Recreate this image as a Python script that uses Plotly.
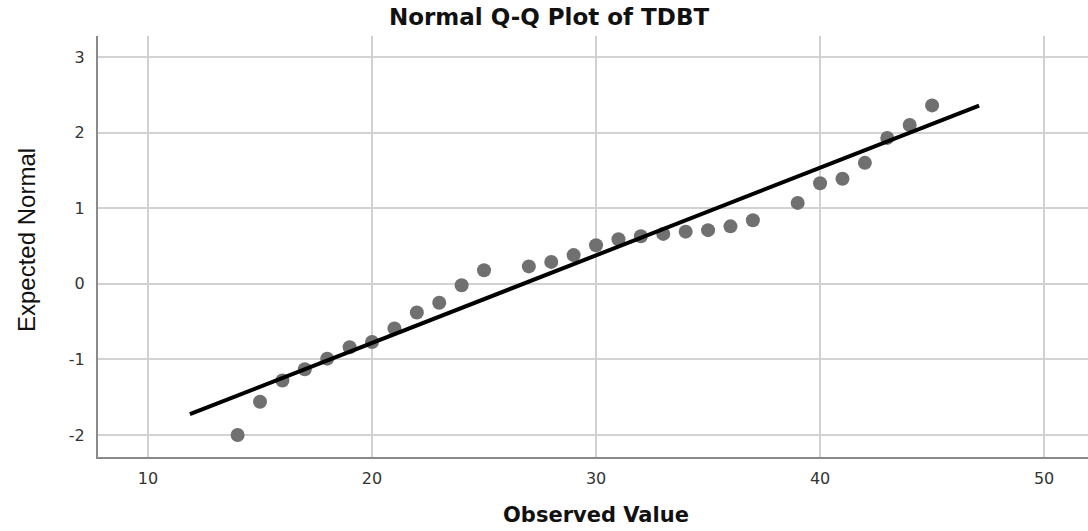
import plotly.graph_objects as go

# Observed TDBT scores and their expected normal quantiles
observed = [14, 15, 16, 17, 18, 19, 20, 21, 22, 23, 24, 25, 27, 28, 29, 30,
            31, 32, 33, 34, 35, 36, 37, 39, 40, 41, 42, 43, 44, 45]
expected = [-2.00, -1.56, -1.28, -1.13, -0.99, -0.84, -0.77, -0.59, -0.38, -0.25,
            -0.02, 0.18, 0.23, 0.29, 0.38, 0.51, 0.59, 0.63, 0.66, 0.69,
            0.71, 0.76, 0.84, 1.07, 1.33, 1.39, 1.60, 1.93, 2.10, 2.36]

# Reference line of the normal distribution fitted to the sample
qq_mean = 26.75
qq_sd = 8.63
line_x = [11.87, 47.1]
line_y = [(v - qq_mean) / qq_sd for v in line_x]

x_ticks = [10, 20, 30, 40, 50]
y_ticks = [-2, -1, 0, 1, 2, 3]

fig = go.Figure()
fig.add_trace(go.Scatter(
    x=observed, y=expected, mode="markers",
    marker=dict(size=14, color="#707070", line=dict(width=0)),
    showlegend=False, hoverinfo="x+y",
))
fig.add_trace(go.Scatter(
    x=line_x, y=line_y, mode="lines",
    line=dict(color="#000000", width=4),
    showlegend=False, hoverinfo="skip",
))

W, H = 1088, 531
L, R, T, B = 98, 0, 36, 74
pw, ph = W - L - R, H - T - B

fig.update_layout(
    width=W, height=H,
    margin=dict(l=L, r=R, t=T, b=B),
    paper_bgcolor="white", plot_bgcolor="white",
    font=dict(family="DejaVu Sans", color="#333333"),
    title=dict(
        text="<b>Normal Q-Q Plot of TDBT</b>",
        font=dict(family="DejaVu Sans", size=23, color="#111111"),
        xref="container", yref="container",
        x=549 / W, y=1 - 17 / H, xanchor="center", yanchor="middle",
    ),
    xaxis=dict(
        range=[7.768, 51.96], tickvals=x_ticks, ticktext=[str(v) for v in x_ticks],
        showgrid=True, gridcolor="#d2d2d2", gridwidth=1.5,
        showline=True, linecolor="#8a8a8a", linewidth=2,
        zeroline=False, ticks="", ticklabelstandoff=6,
        tickfont=dict(family="DejaVu Sans", size=16, color="#333333"),
        fixedrange=True,
    ),
    yaxis=dict(
        range=[-2.291, 3.278], tickvals=y_ticks, ticktext=[str(v) for v in y_ticks],
        showgrid=True, gridcolor="#d2d2d2", gridwidth=1.5,
        showline=True, linecolor="#8a8a8a", linewidth=2,
        zeroline=False, ticks="", ticklabelstandoff=8,
        tickfont=dict(family="DejaVu Sans", size=16, color="#333333"),
        fixedrange=True,
    ),
    annotations=[
        dict(text="<b>Observed Value</b>", xref="paper", yref="paper",
             x=(596 - L) / pw, y=(H - B - 515) / ph,
             xanchor="center", yanchor="middle", showarrow=False,
             font=dict(family="DejaVu Sans", size=21, color="#111111")),
        dict(text="Expected Normal", xref="paper", yref="paper",
             x=(27 - L) / pw, y=(H - B - 240) / ph, textangle=-90,
             xanchor="center", yanchor="middle", showarrow=False,
             font=dict(family="Liberation Sans", size=24, color="#111111")),
    ],
)

fig.write_html("out.html")
